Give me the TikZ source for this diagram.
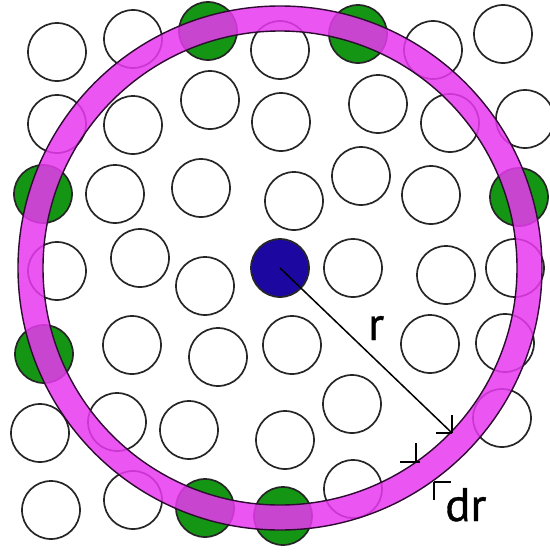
\documentclass[tikz,border=0pt]{standalone}
\usepackage{fontspec}
\setmainfont{PT Sans}
\newfontfamily\labfont{PT Sans}[FakeBold=0.7]
\definecolor{ringcol}{RGB}{232,56,240}
\definecolor{bluecol}{RGB}{28,8,160}
\definecolor{greencol}{RGB}{20,150,20}
\begin{document}
\begin{tikzpicture}[x=1pt,y=-1pt,
  disc/.style={circle,draw=black!85,line width=1.7pt,minimum size=58pt,inner sep=0pt},
  gdisc/.style={disc,fill=greencol},
  bdisc/.style={disc,fill=bluecol},
  ringedge/.style={draw=black!80!ringcol,line width=1.4pt},
  dim/.style={draw=black,line width=1.5pt},
  lab/.style={font=\labfont\fontsize{47}{50}\selectfont,inner sep=0pt,anchor=base west}]
\useasboundingbox[fill=white] (0,0) rectangle (549,554);
% white circles
\foreach \x/\y [count=\i] in {57/52,133/39,280/50,433/50,503/34,
  57/124,133/125,210/100,281/122,378/104,450/123,525/119,
  115/194,201/188,294/201,361/176,431/195,
  57/271,140/258,205/286,353/268,446/275,515/268,
  132/345,218/357,292/345,430/344,505/343,
  40/433,117/422,189/430,285/440,352/404,502/418,
  51/510,133/500,353/489}
  \node[disc] (w\i) at (\x,\y) {};
% green circles
\foreach \x/\y [count=\i] in {208/31,358/34,43/194,519/197,44/354,205/508,283/516}
  \node[gdisc] (g\i) at (\x,\y) {};
% central particle
\node[bdisc] (blue) at (280,268) {};
% shell
\coordinate (c) at (280,268);
\fill[ringcol,fill opacity=0.85,even odd rule] (c) circle (262) (c) circle (237);
\draw[ringedge] (c) circle (262);
\draw[ringedge] (c) circle (237);
% radius arrow
\coordinate (tipr) at (452,433);
\draw[dim] (blue.center) -- (tipr);
\draw[dim] (tipr) -- ++(-16,0);
\draw[dim] (tipr) -- ++(0,-18);
% dr marks
\coordinate (dra) at (416,462);
\coordinate (drb) at (434,482);
\draw[dim] (dra) ++(-16,0) -- ++(20,0);
\draw[dim] (dra) -- ++(0,-19);
\draw[dim] (drb) -- ++(17,0);
\draw[dim] (drb) -- ++(0,18);
% labels
\node[lab] (rl) at (368,340) {r};
\node[lab] (drl) at (445,521) {dr};
\end{tikzpicture}
\end{document}
